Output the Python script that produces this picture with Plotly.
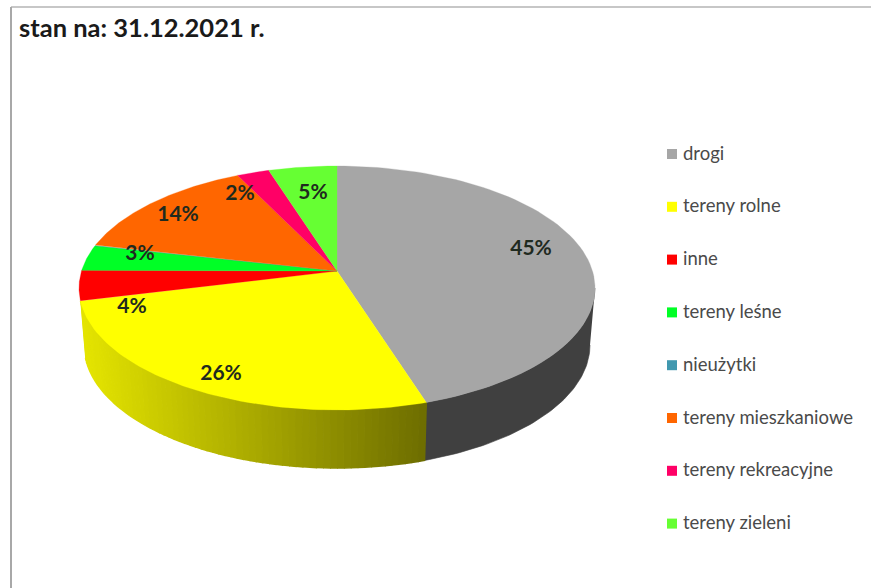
import numpy as np
import plotly.graph_objects as go

# ---- data ----
categories = ["drogi", "tereny rolne", "inne", "tereny leśne", "nieużytki",
              "tereny mieszkaniowe", "tereny rekreacyjne", "tereny zieleni"]
values = [45.1, 26.0, 4.0, 3.4, 0.1, 14.2, 2.3, 4.9]
title_text = "stan na: 31.12.2021 r."

# ---- style ----
colors = ["#a6a6a6", "#ffff00", "#ff0000", "#00ff26", "#4198af",
          "#ff6600", "#ff0066", "#66ff33"]
W, H = 871, 588
TOP = dict(cx=337, cy=288, rx=258, ry=122)
BOTTOM = dict(cx=337, cy=345, rx=253, ry=123)
PERSPECTIVE = -0.139
LABEL_X = [531, 221, 132, 140, None, 178, 240, 313]
LABEL_Y = [250, 375, 308, 255, None, 216, 195, 194]
LEGEND_Y0, LEGEND_STEP = 154, 52.8


def project(phi, r=1.0, e=TOP):
    """Clockwise angle from 12 o'clock on the tilted disc, to picture position."""
    u, v = r * np.sin(phi), -r * np.cos(phi)
    d = PERSPECTIVE
    den = 1 + d * v
    return e["cx"] + e["rx"] * u * np.sqrt(1 - d * d) / den, e["cy"] + e["ry"] * (v + d) / den


def shade(level):
    return f"rgb({level},{level},0)"


total = sum(values)
edges = np.concatenate([[0], np.cumsum(values)]) / total * 2 * np.pi

fig = go.Figure()


def poly(xs, ys, color, name, line=0.6):
    fig.add_trace(go.Scatter(x=list(xs), y=list(ys), mode="lines", fill="toself",
                             fillcolor=color, line=dict(color=color, width=line),
                             showlegend=False, hoverinfo="skip", name=name))


def wall(a, b, color, name, line=0.6):
    t = np.linspace(a, b, 60)
    x1, y1 = project(t, e=TOP)
    x2, y2 = project(t[::-1], e=BOTTOM)
    poly(np.r_[x1, x2], np.r_[y1, y2], color, name, line)


# side wall of the first slice (flat dark grey); only the part facing the viewer
wall(np.arccos(PERSPECTIVE), edges[1], "#404040", categories[0])

# side wall of the second slice, shaded from light to dark going right
strips = np.linspace(edges[2], edges[1], 70)
for a, b in zip(strips[:-1], strips[1:]):
    xm = project((a + b) / 2)[0]
    t = np.clip((xm - 85) / 340, 0, 1)
    wall(a, b, shade(int(228 - t * 118)), categories[1], line=1.5)

# top faces
for i, name in enumerate(categories):
    t = np.linspace(edges[i], edges[i + 1], 80)
    x, y = project(t)
    ax, ay = project(0.0, r=0.0)
    poly(np.r_[ax, x, ax], np.r_[ay, y, ay], colors[i], name, line=0.3)

# percent labels
lx = [x for x in LABEL_X if x is not None]
ly = [y for y in LABEL_Y if y is not None]
lt = [f"{round(v)}%" for v, x in zip(values, LABEL_X) if x is not None]
fig.add_trace(go.Scatter(x=lx, y=ly, mode="text", text=lt, textposition="middle center",
                         textfont=dict(family="Lato", size=21, color="#1f2a1f", weight="bold"),
                         showlegend=False, hoverinfo="skip"))

# legend
ky = [LEGEND_Y0 + i * LEGEND_STEP for i in range(len(categories))]
fig.add_trace(go.Scatter(x=[672] * len(categories), y=ky, mode="markers",
                         marker=dict(symbol="square", size=10, color=colors),
                         showlegend=False, hoverinfo="skip"))
fig.add_trace(go.Scatter(x=[683] * len(categories), y=[y + 1 for y in ky], mode="text",
                         text=categories, textposition="middle right",
                         textfont=dict(family="Lato", size=18.5, color="#4a4a4a"),
                         showlegend=False, hoverinfo="skip"))

fig.update_layout(
    width=W, height=H, margin=dict(l=0, r=0, t=0, b=0),
    paper_bgcolor="white", plot_bgcolor="white", showlegend=False,
    title=dict(text=title_text, x=19 / W, xanchor="left", xref="paper",
               y=1 - 28 / H, yref="paper", yanchor="middle",
               font=dict(family="Lato", size=25.5, color="#1a1a1a", weight="bold")),
    xaxis=dict(range=[0, W], visible=False, fixedrange=True),
    yaxis=dict(range=[H, 0], visible=False, fixedrange=True),
    shapes=[dict(type="line", x0=11, x1=W, y0=7, y1=7, line=dict(color="#b4b4b4", width=1.5)),
            dict(type="line", x0=11, x1=11, y0=7, y1=H, line=dict(color="#a8a8a8", width=2))],
)
fig.write_html("out.html", config={"displayModeBar": False},
               post_script="document.body.style.margin='0';document.body.style.overflow='hidden';")
